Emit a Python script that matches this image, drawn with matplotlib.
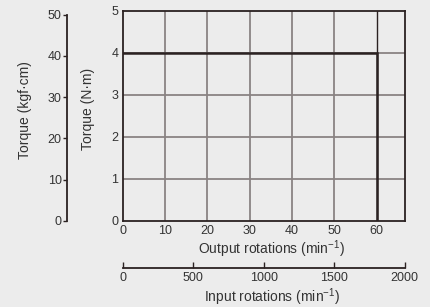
import matplotlib
matplotlib.use("Agg")
import matplotlib.pyplot as plt
import numpy as np

plt.rcParams['font.family'] = ['Liberation Sans', 'DejaVu Sans']
plt.rcParams['mathtext.default'] = 'regular'

# data
out_speed = [0, 60, 60]          # output rotations (min^-1)
torque_nm = [4, 4, 0]            # torque (N·m)
ratio = 30                       # input / output
nm_to_kgfcm = 10.197

out_ticks = [0, 10, 20, 30, 40, 50, 60]
nm_ticks = [0, 1, 2, 3, 4, 5]
kgf_ticks = [0, 10, 20, 30, 40, 50]
in_ticks = [0, 500, 1000, 1500, 2000]

bg = '#ececec'
dark = '#2b2222'
grid_c = '#8a8383'
txt = '#333333'
W, H = 430, 307

fig = plt.figure(figsize=(4.3, 3.07), dpi=100, facecolor=bg)

def rect(x0, y0, x1, y1):
    return [x0 / W, 1 - y1 / H, (x1 - x0) / W, (y1 - y0) / H]

def ftext(x, y, s, **kw):
    fig.text(x / W, 1 - y / H, s, ha='center', va='center', color=txt,
             fontsize=10, **kw)

# main axes
ax = fig.add_axes(rect(122.7, 10.7, 404.7, 220.7))
ax.set_facecolor(bg)
ax.set_xlim(0, 2000 / ratio)
ax.set_ylim(0, 5)
ax.set_xticks(out_ticks)
ax.set_yticks(nm_ticks)
for v in out_ticks[1:-1]:
    ax.axvline(v, color=grid_c, lw=1.3, zorder=1)
ax.axvline(out_ticks[-1], color=dark, lw=1.0, zorder=2)
for v in nm_ticks[1:-1]:
    ax.axhline(v, color=grid_c, lw=1.3, zorder=1)
ax.plot(out_speed, torque_nm, color=dark, lw=1.8, zorder=3, solid_joinstyle='miter')
for s in ax.spines.values():
    s.set_color(dark)
    s.set_linewidth(1.3)
ax.tick_params(length=0, labelsize=9, colors=txt, pad=3)

# kgf·cm axis
axk = fig.add_axes(rect(67.3, 10.7, 68.3, 220.7))
axk.set_facecolor('none')
axk.set_ylim(0, 5 * nm_to_kgfcm)
axk.set_yticks(kgf_ticks)
axk.set_xticks([])
for k in ['top', 'right', 'bottom']:
    axk.spines[k].set_visible(False)
axk.spines['left'].set_bounds(0, 50)
axk.spines['left'].set_color(dark)
axk.spines['left'].set_linewidth(1.3)
axk.tick_params(axis='y', direction='out', length=3, width=1, color=dark,
                labelsize=9, labelcolor=txt, pad=1)

# input rotations axis
axi = fig.add_axes(rect(122.7, 267.3, 404.7, 268.3))
axi.set_facecolor('none')
axi.set_xlim(0, 2000)
axi.set_xticks(in_ticks)
axi.set_yticks([])
for k in ['top', 'right', 'left']:
    axi.spines[k].set_visible(False)
axi.spines['bottom'].set_color(dark)
axi.spines['bottom'].set_linewidth(1.3)
axi.tick_params(axis='x', direction='in', length=4, width=1, color=dark,
                labelsize=9, labelcolor=txt, pad=3)

# axis titles
ftext(25, 110.5, 'Torque (kgf·cm)', rotation=90)
ftext(88, 108.5, 'Torque (N·m)', rotation=90)
ftext(271, 249, 'Output rotations (min$^{-1}$)')
ftext(272, 297, 'Input rotations (min$^{-1}$)')

fig.savefig('out.png', dpi=100, facecolor=bg)
